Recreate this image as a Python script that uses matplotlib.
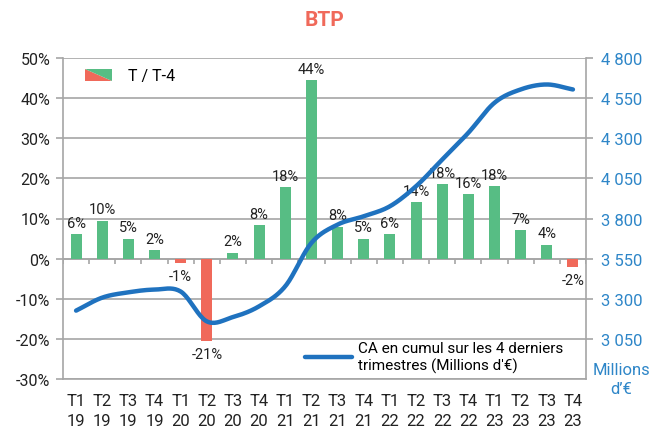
import numpy as np
import matplotlib
matplotlib.use("Agg")
import matplotlib.pyplot as plt
from matplotlib.patches import Polygon
from matplotlib.lines import Line2D
from matplotlib.legend_handler import HandlerBase

plt.rcParams['font.family'] = ['Roboto', 'DejaVu Sans']

quarters = ["T1", "T2", "T3", "T4"] * 5
years = ["19"] * 4 + ["20"] * 4 + ["21"] * 4 + ["22"] * 4 + ["23"] * 4
tick_labels = [f"{q}\n{y}" for q, y in zip(quarters, years)]

growth = [6.2, 9.5, 5.0, 2.2, -1.1, -20.6, 1.5, 8.3, 17.8, 44.4,
          8.0, 5.0, 6.2, 14.0, 18.5, 16.0, 18.0, 7.2, 3.5, -2.2]
growth_labels = ["6%", "10%", "5%", "2%", "-1%", "-21%", "2%", "8%", "18%", "44%",
                 "8%", "5%", "6%", "14%", "18%", "16%", "18%", "7%", "4%", "-2%"]
ca_cumul = [3226, 3307, 3340, 3357, 3345, 3159, 3186, 3253, 3378, 3648,
            3762, 3814, 3876, 4001, 4167, 4334, 4521, 4604, 4635, 4604]

GREEN = "#57BD84"
RED = "#F0695A"
BLUE = "#1F72BF"
LBLUE = "#2E86C8"
GRID = "#A6A6A6"

fig = plt.figure(figsize=(6.49, 4.35), dpi=100)
ax = fig.add_axes([63/649, 55/435, 523/649, 321/435])
ax2 = ax.twinx()

n = len(growth)
x = np.arange(n)
colors = [GREEN if v >= 0 else RED for v in growth]
ax.bar(x, growth, width=0.42, color=colors, zorder=2)

for xi, v, lab in zip(x, growth, growth_labels):
    if v >= 0:
        ax.annotate(lab, (xi, v), xytext=(0, 3), textcoords="offset points",
                    ha="center", va="bottom", fontsize=10.5, color="#222222")
    else:
        ax.annotate(lab, (xi, v), xytext=(0, -4), textcoords="offset points",
                    ha="center", va="top", fontsize=10.5, color="#222222")

ax.set_xlim(-0.5, n - 0.5)
ax.set_ylim(-30, 50)
ax.set_yticks(np.arange(-30, 51, 10))
ax.set_yticklabels([f"{v}%" for v in range(-30, 51, 10)], fontsize=11.5, color="#222222")
ax.grid(axis="y", color=GRID, linewidth=1.2, zorder=0)
ax.set_axisbelow(True)
ax.set_xticks(x)
ax.set_xticklabels(tick_labels, fontsize=12, color="#222222", linespacing=1.45)
ax.tick_params(axis="x", length=0, pad=10)
ax.tick_params(axis="y", length=5, color=GRID, width=1.2, pad=4)
ax.spines["top"].set_visible(False)
for s in ["left", "bottom", "right"]:
    ax.spines[s].set_color(GRID)
    ax.spines[s].set_linewidth(1.2)

# zero line with category boundary ticks
ax.axhline(0, color=GRID, linewidth=1.2, zorder=1)
ax.vlines(np.arange(n + 1) - 0.5, -1.3, 0, color=GRID, linewidth=1.2, zorder=1)

# smooth line (Catmull-Rom through the data points)
def catmull_rom(xs, ys, steps=20):
    xs = np.asarray(xs, float); ys = np.asarray(ys, float)
    px = np.concatenate([[2*xs[0]-xs[1]], xs, [2*xs[-1]-xs[-2]]])
    py = np.concatenate([[2*ys[0]-ys[1]], ys, [2*ys[-1]-ys[-2]]])
    ox, oy = [], []
    for i in range(1, len(px) - 2):
        t = np.linspace(0, 1, steps, endpoint=False)
        for P, out in ((px, ox), (py, oy)):
            p0, p1, p2, p3 = P[i-1], P[i], P[i+1], P[i+2]
            out.extend(0.5*((2*p1) + (-p0+p2)*t + (2*p0-5*p1+4*p2-p3)*t**2 + (-p0+3*p1-3*p2+p3)*t**3))
    ox.append(xs[-1]); oy.append(ys[-1])
    return np.array(ox), np.array(oy)

sx, sy = catmull_rom(x, ca_cumul)
line, = ax2.plot(sx, sy, color=BLUE, linewidth=3.2, solid_capstyle="round", zorder=3)
ax2.set_ylim(2800, 4800)
rt = np.arange(3050, 4801, 250)
ax2.set_yticks(rt)
ax2.set_yticklabels([f"{v:,}".replace(",", " ") for v in rt], fontsize=12, color=LBLUE)
ax2.tick_params(axis="y", length=5, color=GRID, width=1.2, pad=6)
for s in ["top", "left", "bottom", "right"]:
    ax2.spines[s].set_visible(False)

fig.text(621/649, 1 - 380/435, "Millions\nd\u2019\u20ac", color=LBLUE, fontsize=12,
         ha="center", va="center", linespacing=1.35)

fig.text(0.5, 1 - 21/435, "BTP", color=RED, fontsize=15, fontweight="bold",
         ha="center", va="center")

class HandlerSplit(HandlerBase):
    def create_artists(self, legend, orig_handle, xdescent, ydescent, width, height, fontsize, trans):
        x0, y0 = -xdescent, -ydescent
        red = Polygon([[x0, y0 + height], [x0, y0], [x0 + width, y0]], closed=True,
                      facecolor=RED, edgecolor="none", transform=trans)
        green = Polygon([[x0, y0 + height], [x0 + width, y0 + height], [x0 + width, y0]], closed=True,
                        facecolor=GREEN, edgecolor="none", transform=trans)
        return [red, green]

split_handle = object()
leg1 = ax.legend([split_handle], ["T / T-4"], handler_map={object: HandlerSplit()},
                 loc="center left", bbox_to_anchor=(22/523, 1 - 18/321), frameon=False,
                 fontsize=11.5, handlelength=1.7, handleheight=0.8, handletextpad=1.0,
                 borderpad=0, borderaxespad=0)

leg2 = ax2.legend([line], ["CA en cumul sur les 4 derniers\ntrimestres (Millions d'\u20ac)"],
                  loc="center left", bbox_to_anchor=(242/523, 22/321), frameon=False,
                  fontsize=11, handlelength=3.1, handletextpad=0.35,
                  borderpad=0, borderaxespad=0)

fig.savefig("out.png", dpi=100)
